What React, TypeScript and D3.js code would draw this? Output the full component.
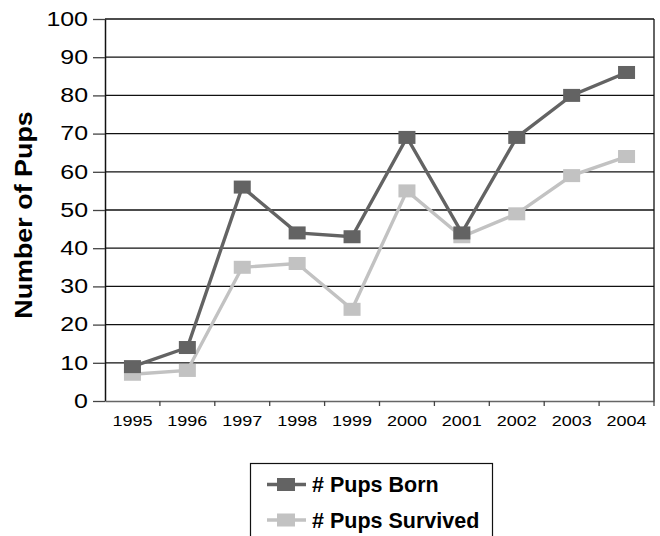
import React, { useEffect, useRef } from 'react';
import { select, scaleBand, scaleLinear, axisLeft, axisBottom, line } from 'd3';

const years = ['1995', '1996', '1997', '1998', '1999', '2000', '2001', '2002', '2003', '2004'];
const pupsBorn = [9, 14, 56, 44, 43, 69, 44, 69, 80, 86];
const pupsSurvived = [7, 8, 35, 36, 24, 55, 43, 49, 59, 64];
const yTicks = [0, 10, 20, 30, 40, 50, 60, 70, 80, 90, 100];
const seriesNames = ['# Pups Born', '# Pups Survived'];
const seriesColors = ['#636363', '#c2c2c2'];

const W = 660;
const H = 536;
const FONT = '"Liberation Sans", Arial, Helvetica, sans-serif';

export default function App() {
  const ref = useRef<SVGSVGElement>(null);

  useEffect(() => {
    const svg = select(ref.current);
    svg.selectAll('*').remove();

    const left = 105, right = 654, top = 19, bottom = 401;

    const x = scaleBand().domain(years).range([left, right]);
    const y = scaleLinear().domain([0, 100]).range([bottom, top]);

    // gridlines
    svg.append('g')
      .selectAll('line')
      .data(yTicks.filter(d => d > 0))
      .enter()
      .append('line')
      .attr('x1', left)
      .attr('x2', right)
      .attr('y1', d => y(d))
      .attr('y2', d => y(d))
      .attr('stroke', '#111')
      .attr('stroke-width', 1.3);

    // right border
    svg.append('line')
      .attr('x1', right).attr('x2', right)
      .attr('y1', top).attr('y2', bottom)
      .attr('stroke', '#111').attr('stroke-width', 1.3);

    // y axis
    const yAxis = svg.append('g')
      .attr('transform', `translate(${left},0)`)
      .call(axisLeft(y).tickValues(yTicks).tickSize(12).tickSizeOuter(0).tickPadding(5));
    yAxis.select('.domain').attr('stroke', '#111').attr('stroke-width', 1.5);
    yAxis.selectAll('.tick line').attr('stroke', '#444').attr('stroke-width', 1.3);
    yAxis.selectAll('text')
      .attr('x', 0)
      .attr('transform', 'translate(-17,0) scale(1.28,1)')
      .attr('font-family', FONT)
      .attr('font-size', 19.5)
      .attr('fill', '#000');

    // x axis: ticks on category boundaries
    const xAxis = svg.append('g')
      .attr('transform', `translate(0,${bottom})`)
      .call(axisBottom(x).tickSize(0).tickSizeOuter(0).tickPadding(14));
    xAxis.select('.domain').attr('stroke', '#666').attr('stroke-width', 1.5);
    xAxis.selectAll('text')
      .attr('transform', 'scale(1.2,1)')
      .attr('font-family', FONT)
      .attr('font-size', 15)
      .attr('fill', '#000');
    svg.append('g')
      .selectAll('line')
      .data(years)
      .enter()
      .append('line')
      .attr('x1', d => (x(d) as number) + x.bandwidth())
      .attr('x2', d => (x(d) as number) + x.bandwidth())
      .attr('y1', bottom)
      .attr('y2', bottom + 5)
      .attr('stroke', '#444')
      .attr('stroke-width', 1.3);

    // y title
    svg.append('text')
      .attr('transform', `translate(32,${(top + bottom) / 2 + 5}) rotate(-90) scale(1.12,1)`)
      .attr('text-anchor', 'middle')
      .attr('font-family', FONT)
      .attr('font-weight', 'bold')
      .attr('font-size', 24)
      .text('Number of Pups');

    const cx = (i: number) => (x(years[i]) as number) + x.bandwidth() / 2;
    const mw = 17, mh = 13;

    [pupsBorn, pupsSurvived].forEach((vals, s) => {
      const gen = line<number>().x((d, i) => cx(i)).y(d => y(d));
      svg.append('path')
        .attr('d', gen(vals))
        .attr('fill', 'none')
        .attr('stroke', seriesColors[s])
        .attr('stroke-width', 3.4);
    });
    [pupsSurvived, pupsBorn].forEach((vals, k) => {
      const s = k === 0 ? 1 : 0;
      svg.append('g')
        .selectAll('rect')
        .data(vals)
        .enter()
        .append('rect')
        .attr('x', (d, i) => cx(i) - mw / 2)
        .attr('y', d => y(d) - mh / 2)
        .attr('width', mw)
        .attr('height', mh)
        .attr('fill', seriesColors[s]);
    });

    // legend
    const lg = svg.append('g');
    lg.append('rect')
      .attr('x', 250.5).attr('y', 463.5)
      .attr('width', 242).attr('height', 90)
      .attr('fill', '#fff').attr('stroke', '#111').attr('stroke-width', 1.2);
    seriesNames.forEach((name, i) => {
      const ly = 484.5 + i * 35.5;
      lg.append('line')
        .attr('x1', 267).attr('x2', 306).attr('y1', ly).attr('y2', ly)
        .attr('stroke', seriesColors[i]).attr('stroke-width', 3.4);
      lg.append('rect')
        .attr('x', 277).attr('y', ly - 6.5).attr('width', 18).attr('height', 13)
        .attr('fill', seriesColors[i]);
      lg.append('text')
        .attr('x', 312).attr('y', ly + 7.5)
        .attr('font-family', FONT)
        .attr('font-weight', 'bold')
        .attr('font-size', 21.5)
        .text(name);
    });
  }, []);

  return <svg ref={ref} width={W} height={H} style={{ display: 'block', position: 'absolute', left: 0, top: 0, background: '#fff' }} />;
}
